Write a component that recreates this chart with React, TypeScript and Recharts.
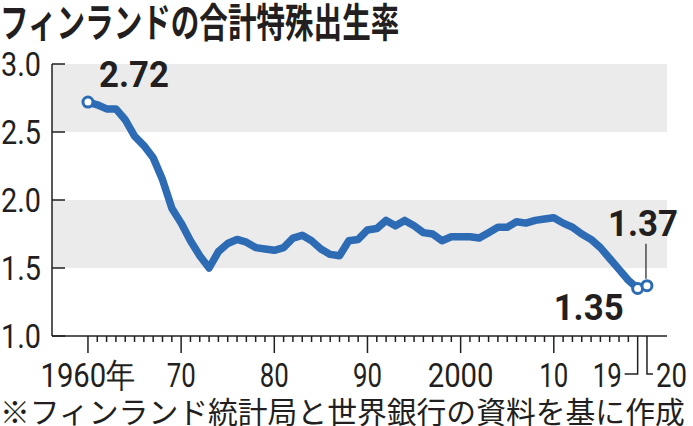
import React from 'react';
import { LineChart, Line, XAxis, YAxis, ReferenceArea, LabelList } from 'recharts';

const years: number[] = [
  1960, 1961, 1962, 1963, 1964, 1965, 1966, 1967, 1968, 1969,
  1970, 1971, 1972, 1973, 1974, 1975, 1976, 1977, 1978, 1979,
  1980, 1981, 1982, 1983, 1984, 1985, 1986, 1987, 1988, 1989,
  1990, 1991, 1992, 1993, 1994, 1995, 1996, 1997, 1998, 1999,
  2000, 2001, 2002, 2003, 2004, 2005, 2006, 2007, 2008, 2009,
  2010, 2011, 2012, 2013, 2014, 2015, 2016, 2017, 2018, 2019,
  2020,
];
const tfr: number[] = [
  2.72, 2.70, 2.67, 2.67, 2.59, 2.47, 2.40, 2.31, 2.15, 1.94,
  1.83, 1.70, 1.59, 1.50, 1.62, 1.68, 1.71, 1.69, 1.65, 1.64,
  1.63, 1.65, 1.72, 1.74, 1.70, 1.64, 1.60, 1.59, 1.70, 1.71,
  1.78, 1.79, 1.85, 1.81, 1.85, 1.81, 1.76, 1.75, 1.70, 1.73,
  1.73, 1.73, 1.72, 1.76, 1.80, 1.80, 1.84, 1.83, 1.85, 1.86,
  1.87, 1.83, 1.80, 1.75, 1.71, 1.65, 1.57, 1.49, 1.41, 1.35,
  1.37,
];
const yTicks: number[] = [1.0, 1.5, 2.0, 2.5, 3.0];
const xLabelYears: number[] = [1960, 1970, 1980, 1990, 2000, 2010, 2019, 2020];
const xLabelTexts: string[] = ['1960年', '70', '80', '90', '2000', '10', '19', '20'];
const bands: [number, number][] = [[1.5, 2.0], [2.5, 3.0]];
const highlightYears: number[] = [1960, 2019, 2020];

const title = 'フィンランドの合計特殊出生率';
const source = '※フィンランド統計局と世界銀行の資料を基に作成';

const data = years.map((year, i) => ({ year, tfr: tfr[i] }));

const LINE = '#2d6bb5';
const INK = '#231f20';
const BAND = '#ebebeb';
const NUM_FONT = 'Roboto, "Liberation Sans", sans-serif';
const JP_FONT = '"Noto Sans CJK JP", "Noto Sans", sans-serif';

const YTick = (props: any) => {
  const { x, y, payload } = props;
  return (
    <g>
      <line x1={x} x2={x + 13} y1={y} y2={y} stroke={INK} strokeWidth={1.5} />
      <text
        x={x - 11}
        y={y + 12}
        textAnchor="end"
        fontFamily={NUM_FONT}
        fontSize={33}
        fill={INK}
        textLength={40}
        lengthAdjust="spacingAndGlyphs"
      >
        {Number(payload.value).toFixed(1)}
      </text>
    </g>
  );
};

const XTick = (props: any) => {
  const { x, y, payload } = props;
  const v = payload.value as number;
  const li = xLabelYears.indexOf(v);
  const isDecade = v % 10 === 0 && v < 2020;
  const els: any[] = [];
  if (v === 2019 || v === 2020) {
    const hx = v === 2019 ? x - 13 : x + 6;
    els.push(<polyline key="l" points={`${x},${y} ${x},${y + 38} ${hx},${y + 38}`} fill="none" stroke={INK} strokeWidth={1.5} />);
  } else {
    els.push(<line key="l" x1={x} x2={x} y1={y} y2={y + (isDecade ? 17 : 6)} stroke={INK} strokeWidth={1.5} />);
  }
  if (li >= 0) {
    const label = xLabelTexts[li];
    let anchor: 'middle' | 'end' | 'start' = 'middle';
    let tx = x;
    if (v === 2019) { anchor = 'end'; tx = x - 16; }
    if (v === 2020) { anchor = 'start'; tx = x + 9; }
    let w = label.length === 2 ? 29 : 66;
    if (label.indexOf('年') >= 0) w = 95;
    if (v === 2020) w = 31;
    els.push(
      <text
        key="t"
        x={tx}
        y={y + 51}
        textAnchor={anchor}
        fontFamily={NUM_FONT}
        fontSize={34}
        fill={INK}
        textLength={w}
        lengthAdjust="spacingAndGlyphs"
      >
        {label}
      </text>
    );
  }
  return <g>{els}</g>;
};

const renderDot = (props: any) => {
  const { cx, cy, payload, index } = props;
  if (!highlightYears.includes(payload.year)) return <g key={`d${index}`} />;
  return <circle key={`d${index}`} cx={cx} cy={cy} r={5} fill="#fff" stroke={LINE} strokeWidth={3} />;
};

const renderLabel = (props: any) => {
  const { x, y, value, index } = props;
  const year = years[index];
  if (!highlightYears.includes(year)) return null;
  const txt = Number(value).toFixed(2);
  const common = {
    fontFamily: NUM_FONT,
    fontWeight: 700 as const,
    fontSize: 37,
    fill: INK,
    textLength: 70,
    lengthAdjust: 'spacingAndGlyphs' as const,
  };
  if (year === 1960) {
    return <text key={`l${index}`} x={x + 11} y={y - 15} textAnchor="start" {...common}>{txt}</text>;
  }
  if (year === 2019) {
    return <text key={`l${index}`} x={x - 14} y={y + 32} textAnchor="end" {...common}>{txt}</text>;
  }
  return (
    <g key={`l${index}`}>
      <line x1={x - 1} x2={x - 1} y1={y - 42} y2={y - 7} stroke={INK} strokeWidth={1.2} />
      <text x={x - 4} y={y - 50} textAnchor="middle" {...common}>{txt}</text>
    </g>
  );
};

export default function App() {
  return (
    <div style={{ position: 'absolute', left: 0, top: 0, width: 693, height: 426, background: '#fff', overflow: 'hidden' }}>
      <div
        style={{
          position: 'absolute',
          left: 0,
          top: 0,
          fontFamily: JP_FONT,
          fontWeight: 700,
          fontSize: 40,
          lineHeight: '40px',
          color: INK,
          whiteSpace: 'nowrap',
          transform: 'scaleX(0.714)',
          transformOrigin: 'left top',
        }}
      >
        {title}
      </div>
      <div style={{ position: 'absolute', left: 0, top: 0 }}>
        <LineChart width={693} height={426} data={data} margin={{ top: 64, right: 26, bottom: 0, left: 0 }}>
          {bands.map(([a, b], i) => (
            <ReferenceArea key={i} y1={a} y2={b} fill={BAND} fillOpacity={1} stroke="none" ifOverflow="hidden" />
          ))}
          <XAxis
            type="number"
            dataKey="year"
            domain={[1956.14, 2022.15]}
            ticks={years}
            interval={0}
            height={90}
            tickSize={0}
            tickMargin={0}
            tickLine={false}
            axisLine={{ stroke: INK, strokeWidth: 1.5 }}
            tick={<XTick />}
            allowDataOverflow
          />
          <YAxis
            type="number"
            domain={[1, 3]}
            ticks={yTicks}
            interval={0}
            width={52}
            tickSize={0}
            tickMargin={0}
            tickLine={false}
            axisLine={{ stroke: INK, strokeWidth: 1.5 }}
            tick={<YTick />}
            allowDataOverflow
          />
          <Line
            type="linear"
            dataKey="tfr"
            stroke={LINE}
            strokeWidth={7.5}
            strokeLinejoin="round"
            strokeLinecap="round"
            dot={renderDot}
            activeDot={false}
            isAnimationActive={false}
          >
            <LabelList dataKey="tfr" content={renderLabel} />
          </Line>
        </LineChart>
      </div>
      <div
        style={{
          position: 'absolute',
          left: 0,
          top: 395,
          fontFamily: JP_FONT,
          fontSize: 29.8,
          lineHeight: '30px',
          color: INK,
          whiteSpace: 'nowrap',
        }}
      >
        {source}
      </div>
    </div>
  );
}
